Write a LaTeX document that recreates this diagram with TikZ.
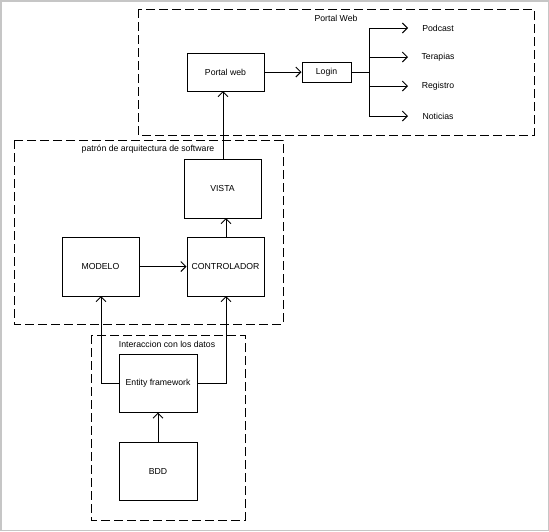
\documentclass[tikz,border=0pt]{standalone}
\usepackage{fontspec}
\setmainfont{Liberation Sans}
\usetikzlibrary{arrows.meta}
\begin{document}
\begin{tikzpicture}[x=1pt,y=-1pt,
  box/.style={draw,line width=1pt,inner sep=0pt,font=\fontsize{8.7}{10}\selectfont},
  grp/.style={draw,dashed,line width=1pt,dash pattern=on 9pt off 4pt},
  lbl/.style={font=\fontsize{8.7}{10}\selectfont,inner sep=0pt},
  arr/.style={line width=1pt,-{Straight Barb[length=5pt,width=10pt,line width=1pt]}},
  ln/.style={line width=1pt}]
\useasboundingbox (0,0) rectangle (549,531);
\draw[gray!45,line width=1.5pt] (0.75,0.75) rectangle (548.25,530.25);
% groups
\draw[grp] (138,9) rectangle (534,135);
\node[lbl] (tweb) at (336,18) {Portal Web};
\draw[grp] (14,140) rectangle (283,324);
\node[lbl] (tpat) at (148,149) {patrón de arquitectura de software};
\draw[grp] (91,335) rectangle (245,520);
\node[lbl] (tdat) at (167,344) {Interaccion con los datos};
% boxes
\node[box,minimum width=77pt,minimum height=38pt] (pw) at (225.5,72) {Portal web};
\node[box,minimum width=49pt,minimum height=20pt] (login) at (326.5,72) {Login};
\node[box,minimum width=77pt,minimum height=59pt] (vista) at (222.5,188.5) {VISTA};
\node[box,minimum width=77pt,minimum height=59pt] (ctrl) at (225.5,266.5) {CONTROLADOR};
\node[box,minimum width=77pt,minimum height=59pt] (mod) at (100.5,266.5) {MODELO};
\node[box,minimum width=78pt,minimum height=58pt] (ef) at (158,383) {Entity framework};
\node[box,minimum width=78pt,minimum height=58pt] (bdd) at (158,471) {BDD};
% menu items
\node[lbl] (pod) at (438,28) {Podcast};
\node[lbl] (ter) at (438,57) {Terapias};
\node[lbl] (reg) at (438,86) {Registro};
\node[lbl] (not) at (438,116) {Noticias};
\coordinate (br) at (369,72);
% connectors
\draw[arr] (pw) -- (login);
\draw[ln] (login.east) -- (br);
\foreach \t in {pod,ter,reg,not}{
  \draw[arr] (br) |- (408,0 |- \t) ;
}
\draw[arr] (vista.north -| 223,0) -- (223,91);
\draw[arr] (ctrl.north -| 226,0) -- (226,218);
\draw[arr] (mod) -- (ctrl);
\draw[arr] (ef.west) -| (101,296);
\draw[arr] (ef.east) -| (226,296);
\draw[arr] (bdd) -- (ef);
\end{tikzpicture}
\end{document}
